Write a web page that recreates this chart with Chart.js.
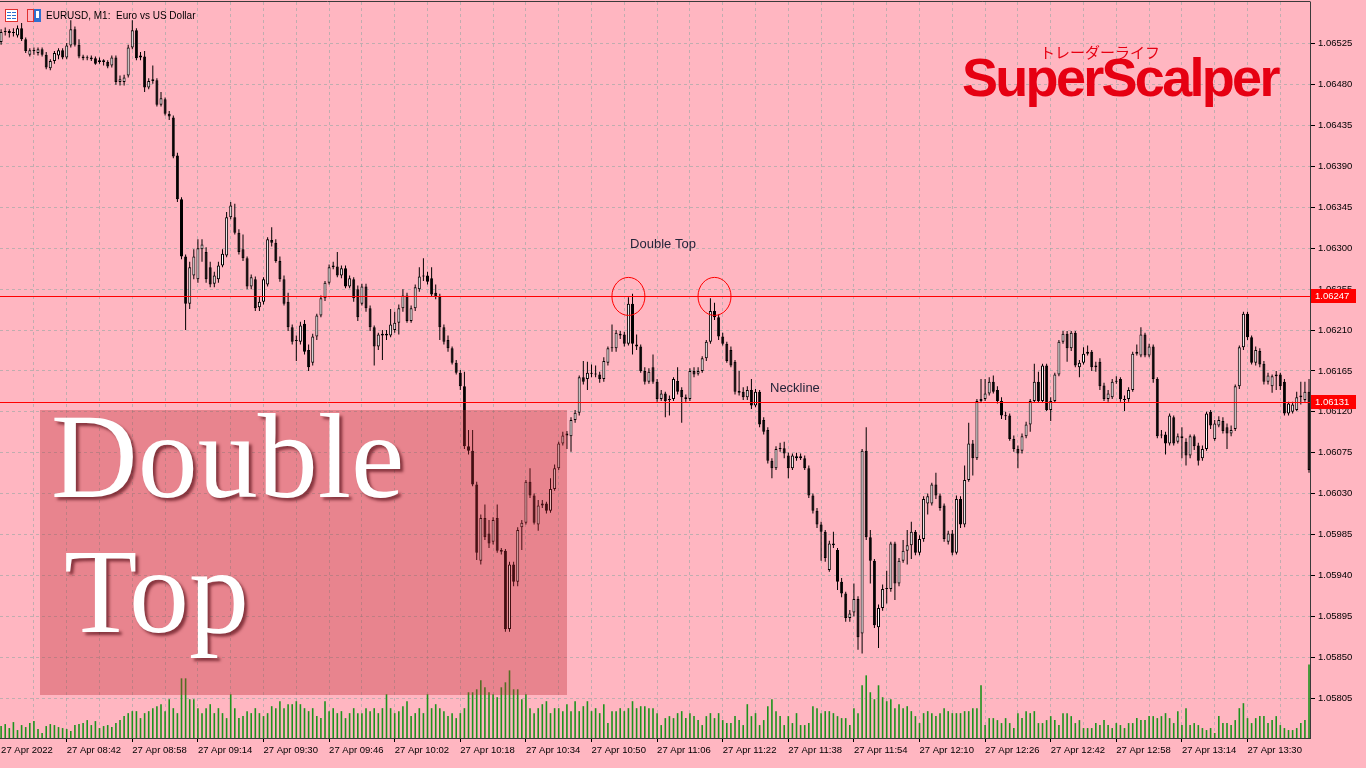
<!DOCTYPE html>
<html>
<head>
<meta charset="utf-8">
<title>EURUSD M1 - Double Top</title>
<script src="https://cdn.jsdelivr.net/npm/chart.js@4.4.1/dist/chart.umd.min.js"></script>
<style>
  html, body { margin: 0; padding: 0; background: #ffb6c1; overflow: hidden; }
  canvas { display: block; }
</style>
</head>
<body>
<canvas id="chart" width="1366" height="768"></canvas>
<script>
// EURUSD M1, 27 Apr 2022, one candle per minute from 08:26
const symbolTitle = 'EURUSD, M1:  Euro vs US Dollar';
const timeTickLabels = ['27 Apr 2022', '27 Apr 08:42', '27 Apr 08:58', '27 Apr 09:14', '27 Apr 09:30',
  '27 Apr 09:46', '27 Apr 10:02', '27 Apr 10:18', '27 Apr 10:34', '27 Apr 10:50', '27 Apr 11:06',
  '27 Apr 11:22', '27 Apr 11:38', '27 Apr 11:54', '27 Apr 12:10', '27 Apr 12:26', '27 Apr 12:42',
  '27 Apr 12:58', '27 Apr 13:14', '27 Apr 13:30'];
const priceTicks = [1.05805, 1.05850, 1.05895, 1.05940, 1.05985, 1.06030, 1.06075, 1.06120, 1.06165,
  1.06210, 1.06255, 1.06300, 1.06345, 1.06390, 1.06435, 1.06480, 1.06525];
const resistance = 1.06247;
const neckline = 1.06131;
const topCandles = [153, 174];

const openPrices = [
  1.06527,1.06538,1.06539,1.06537,1.06534,1.06542,1.06530,1.06513,1.06518,1.06515,
  1.06519,1.06513,1.06498,1.06506,1.06512,1.06518,1.06510,1.06523,1.06541,1.06524,
  1.06511,1.06509,1.06510,1.06509,1.06505,1.06507,1.06505,1.06501,1.06510,1.06483,
  1.06483,1.06490,1.06521,1.06540,1.06510,1.06511,1.06477,1.06484,1.06485,1.06458,
  1.06464,1.06448,1.06444,1.06402,1.06354,1.06291,1.06239,1.06270,1.06266,1.06299,
  1.06296,1.06279,1.06261,1.06266,1.06281,1.06292,1.06334,1.06334,1.06317,1.06299,
  1.06289,1.06258,1.06266,1.06235,1.06241,1.06260,1.06309,1.06306,1.06286,1.06266,
  1.06241,1.06213,1.06198,1.06197,1.06217,1.06188,1.06174,1.06203,1.06226,1.06245,
  1.06262,1.06279,1.06280,1.06270,1.06278,1.06258,1.06266,1.06255,1.06239,1.06258,
  1.06234,1.06213,1.06192,1.06204,1.06206,1.06204,1.06210,1.06218,1.06234,1.06248,
  1.06220,1.06234,1.06255,1.06269,1.06270,1.06267,1.06251,1.06247,1.06213,1.06199,
  1.06190,1.06174,1.06163,1.06148,1.06082,1.06077,1.06040,1.05956,1.06003,1.05986,
  1.05977,1.06003,1.05968,1.05967,1.05881,1.05952,1.05933,1.05993,1.05998,1.06043,
  1.06028,1.05996,1.06017,1.06019,1.06011,1.06035,1.06058,1.06085,1.06094,1.06093,
  1.06111,1.06119,1.06158,1.06156,1.06163,1.06162,1.06161,1.06156,1.06174,1.06190,
  1.06190,1.06204,1.06205,1.06195,1.06239,1.06194,1.06192,1.06165,1.06153,1.06169,
  1.06153,1.06134,1.06140,1.06133,1.06134,1.06154,1.06144,1.06136,1.06134,1.06165,
  1.06162,1.06165,1.06179,1.06197,1.06231,1.06224,1.06203,1.06195,1.06188,1.06175,
  1.06143,1.06142,1.06136,1.06144,1.06127,1.06142,1.06111,1.06100,1.06066,1.06058,
  1.06079,1.06080,1.06072,1.06058,1.06071,1.06069,1.06069,1.06058,1.06028,1.06011,
  1.05996,1.05988,1.05946,1.05975,1.05968,1.05933,1.05920,1.05893,1.05899,1.05914,
  1.05876,1.06077,1.05982,1.05956,1.05883,1.05904,1.05925,1.05925,1.05975,1.05931,
  1.05956,1.05967,1.05973,1.05988,1.05965,1.05980,1.06019,1.06019,1.06040,1.06028,
  1.06017,1.05977,1.05986,1.05965,1.06024,1.05996,1.06045,1.06085,1.06069,1.06132,
  1.06134,1.06140,1.06153,1.06144,1.06132,1.06116,1.06116,1.06090,1.06079,1.06077,
  1.06093,1.06106,1.06132,1.06153,1.06132,1.06171,1.06122,1.06132,1.06161,1.06197,
  1.06206,1.06190,1.06207,1.06169,1.06174,1.06184,1.06186,1.06169,1.06175,1.06149,
  1.06134,1.06136,1.06153,1.06156,1.06134,1.06134,1.06144,1.06184,1.06182,1.06205,
  1.06182,1.06192,1.06156,1.06094,1.06095,1.06085,1.06114,1.06087,1.06093,1.06087,
  1.06072,1.06093,1.06083,1.06069,1.06079,1.06120,1.06090,1.06105,1.06110,1.06103,
  1.06096,1.06101,1.06148,1.06191,1.06228,1.06202,1.06174,1.06187,1.06173,1.06153,
  1.06148,1.06159,1.06161,1.06153,1.06118,1.06120,1.06122,1.06136,1.06133,1.06142
];
const highPrices = [
  1.06541,1.06543,1.06541,1.06542,1.06545,1.06548,1.06532,1.06520,1.06521,1.06521,
  1.06521,1.06516,1.06508,1.06517,1.06520,1.06520,1.06526,1.06551,1.06544,1.06530,
  1.06513,1.06512,1.06512,1.06511,1.06510,1.06508,1.06507,1.06512,1.06512,1.06490,
  1.06491,1.06524,1.06551,1.06542,1.06516,1.06517,1.06487,1.06501,1.06487,1.06472,
  1.06466,1.06451,1.06446,1.06405,1.06356,1.06293,1.06285,1.06299,1.06310,1.06310,
  1.06301,1.06285,1.06274,1.06285,1.06299,1.06340,1.06351,1.06349,1.06321,1.06315,
  1.06291,1.06271,1.06269,1.06247,1.06268,1.06312,1.06323,1.06310,1.06291,1.06270,
  1.06251,1.06216,1.06204,1.06219,1.06221,1.06194,1.06206,1.06228,1.06248,1.06264,
  1.06282,1.06285,1.06296,1.06281,1.06281,1.06270,1.06268,1.06259,1.06261,1.06261,
  1.06237,1.06215,1.06207,1.06210,1.06210,1.06233,1.06230,1.06238,1.06255,1.06251,
  1.06237,1.06260,1.06279,1.06289,1.06274,1.06279,1.06260,1.06250,1.06216,1.06204,
  1.06192,1.06177,1.06166,1.06164,1.06100,1.06100,1.06043,1.06007,1.06018,1.06001,
  1.06004,1.06018,1.05970,1.05969,1.05955,1.05955,1.05993,1.06001,1.06045,1.06058,
  1.06030,1.06023,1.06023,1.06021,1.06047,1.06062,1.06087,1.06098,1.06099,1.06114,
  1.06122,1.06160,1.06176,1.06175,1.06172,1.06171,1.06164,1.06180,1.06192,1.06216,
  1.06210,1.06209,1.06208,1.06246,1.06250,1.06205,1.06194,1.06169,1.06168,1.06183,
  1.06156,1.06144,1.06142,1.06138,1.06158,1.06169,1.06147,1.06139,1.06168,1.06169,
  1.06169,1.06181,1.06199,1.06245,1.06240,1.06227,1.06207,1.06197,1.06192,1.06177,
  1.06165,1.06147,1.06148,1.06156,1.06145,1.06144,1.06114,1.06103,1.06069,1.06082,
  1.06086,1.06087,1.06075,1.06074,1.06075,1.06074,1.06072,1.06061,1.06030,1.06014,
  1.05999,1.05990,1.05978,1.05988,1.05970,1.05937,1.05922,1.05902,1.05931,1.05917,
  1.06079,1.06103,1.05990,1.05958,1.05908,1.05930,1.05945,1.05977,1.05977,1.05959,
  1.05979,1.05990,1.05999,1.05990,1.05984,1.06027,1.06030,1.06042,1.06053,1.06030,
  1.06019,1.05989,1.05990,1.06028,1.06027,1.06061,1.06108,1.06089,1.06134,1.06156,
  1.06156,1.06158,1.06160,1.06148,1.06136,1.06120,1.06118,1.06094,1.06083,1.06096,
  1.06109,1.06134,1.06173,1.06164,1.06173,1.06173,1.06136,1.06163,1.06199,1.06209,
  1.06209,1.06209,1.06209,1.06177,1.06191,1.06193,1.06188,1.06175,1.06179,1.06152,
  1.06144,1.06156,1.06159,1.06158,1.06138,1.06147,1.06186,1.06194,1.06213,1.06207,
  1.06195,1.06194,1.06158,1.06100,1.06098,1.06118,1.06116,1.06096,1.06103,1.06091,
  1.06095,1.06095,1.06086,1.06083,1.06120,1.06122,1.06111,1.06115,1.06114,1.06107,
  1.06105,1.06150,1.06193,1.06230,1.06230,1.06204,1.06192,1.06190,1.06176,1.06163,
  1.06161,1.06165,1.06163,1.06156,1.06131,1.06131,1.06142,1.06153,1.06153,1.06156
];
const lowPrices = [
  1.06524,1.06534,1.06532,1.06533,1.06532,1.06528,1.06515,1.06511,1.06513,1.06512,
  1.06511,1.06497,1.06496,1.06503,1.06508,1.06508,1.06508,1.06521,1.06522,1.06509,
  1.06507,1.06507,1.06506,1.06502,1.06503,1.06501,1.06498,1.06499,1.06480,1.06479,
  1.06479,1.06488,1.06519,1.06507,1.06507,1.06472,1.06475,1.06481,1.06456,1.06456,
  1.06446,1.06441,1.06399,1.06351,1.06288,1.06210,1.06233,1.06266,1.06262,1.06285,
  1.06262,1.06257,1.06257,1.06262,1.06279,1.06290,1.06332,1.06315,1.06293,1.06286,
  1.06255,1.06255,1.06231,1.06231,1.06238,1.06258,1.06302,1.06284,1.06263,1.06237,
  1.06209,1.06194,1.06176,1.06194,1.06183,1.06165,1.06171,1.06199,1.06224,1.06242,
  1.06260,1.06277,1.06268,1.06267,1.06256,1.06256,1.06241,1.06220,1.06237,1.06230,
  1.06209,1.06171,1.06188,1.06177,1.06199,1.06202,1.06207,1.06205,1.06230,1.06218,
  1.06218,1.06231,1.06252,1.06264,1.06260,1.06247,1.06244,1.06199,1.06194,1.06186,
  1.06172,1.06161,1.06144,1.06079,1.06073,1.06038,1.05957,1.05952,1.05979,1.05970,
  1.05974,1.05965,1.05963,1.05878,1.05878,1.05928,1.05928,1.05968,1.05996,1.06025,
  1.05996,1.05989,1.06014,1.06008,1.06009,1.06033,1.06056,1.06083,1.06079,1.06076,
  1.06108,1.06116,1.06150,1.06144,1.06158,1.06158,1.06152,1.06153,1.06171,1.06186,
  1.06186,1.06200,1.06192,1.06193,1.06183,1.06188,1.06163,1.06150,1.06151,1.06151,
  1.06131,1.06132,1.06114,1.06116,1.06132,1.06139,1.06108,1.06131,1.06132,1.06158,
  1.06160,1.06163,1.06176,1.06195,1.06221,1.06199,1.06193,1.06174,1.06169,1.06139,
  1.06138,1.06133,1.06133,1.06123,1.06125,1.06103,1.06095,1.06063,1.06047,1.06056,
  1.06076,1.06069,1.06047,1.06056,1.06066,1.06067,1.06056,1.06025,1.06008,1.05992,
  1.05956,1.05955,1.05944,1.05970,1.05924,1.05916,1.05889,1.05889,1.05895,1.05858,
  1.05854,1.05979,1.05931,1.05882,1.05860,1.05901,1.05909,1.05922,1.05913,1.05928,
  1.05954,1.05952,1.05958,1.05962,1.05962,1.05977,1.06007,1.06017,1.06024,1.06011,
  1.05977,1.05974,1.05962,1.05963,1.05992,1.05993,1.06043,1.06050,1.06067,1.06130,
  1.06132,1.06138,1.06140,1.06129,1.06112,1.06111,1.06088,1.06076,1.06058,1.06074,
  1.06091,1.06098,1.06130,1.06130,1.06130,1.06121,1.06110,1.06130,1.06159,1.06195,
  1.06175,1.06187,1.06169,1.06158,1.06172,1.06182,1.06165,1.06164,1.06144,1.06132,
  1.06131,1.06134,1.06151,1.06131,1.06121,1.06131,1.06142,1.06182,1.06180,1.06180,
  1.06180,1.06152,1.06091,1.06091,1.06073,1.06083,1.06083,1.06085,1.06069,1.06061,
  1.06069,1.06078,1.06061,1.06066,1.06077,1.06101,1.06088,1.06103,1.06096,1.06079,
  1.06093,1.06099,1.06145,1.06188,1.06199,1.06172,1.06171,1.06169,1.06150,1.06150,
  1.06141,1.06144,1.06144,1.06116,1.06116,1.06118,1.06121,1.06128,1.06131,1.06053
];
const closePrices = [
  1.06538,1.06539,1.06537,1.06538,1.06542,1.06530,1.06517,1.06518,1.06517,1.06519,
  1.06513,1.06499,1.06506,1.06515,1.06518,1.06510,1.06523,1.06541,1.06524,1.06511,
  1.06509,1.06510,1.06508,1.06503,1.06507,1.06505,1.06500,1.06510,1.06483,1.06486,
  1.06488,1.06521,1.06540,1.06509,1.06512,1.06477,1.06484,1.06486,1.06458,1.06465,
  1.06448,1.06445,1.06401,1.06354,1.06291,1.06239,1.06279,1.06291,1.06300,1.06304,
  1.06266,1.06260,1.06270,1.06281,1.06294,1.06334,1.06347,1.06317,1.06296,1.06289,
  1.06258,1.06268,1.06234,1.06241,1.06266,1.06310,1.06306,1.06286,1.06266,1.06239,
  1.06213,1.06197,1.06199,1.06215,1.06186,1.06169,1.06203,1.06226,1.06245,1.06262,
  1.06279,1.06281,1.06270,1.06278,1.06258,1.06267,1.06245,1.06224,1.06258,1.06234,
  1.06213,1.06192,1.06205,1.06206,1.06204,1.06216,1.06218,1.06234,1.06248,1.06220,
  1.06234,1.06257,1.06269,1.06270,1.06263,1.06249,1.06247,1.06213,1.06197,1.06190,
  1.06174,1.06163,1.06148,1.06082,1.06077,1.06040,1.05965,1.06003,1.05982,1.05975,
  1.06001,1.05967,1.05966,1.05881,1.05952,1.05933,1.05990,1.05998,1.06043,1.06028,
  1.05998,1.06017,1.06019,1.06011,1.06035,1.06058,1.06085,1.06094,1.06096,1.06111,
  1.06119,1.06158,1.06153,1.06163,1.06162,1.06161,1.06156,1.06176,1.06190,1.06191,
  1.06207,1.06206,1.06195,1.06239,1.06195,1.06192,1.06165,1.06153,1.06164,1.06153,
  1.06134,1.06140,1.06132,1.06134,1.06156,1.06142,1.06136,1.06134,1.06165,1.06161,
  1.06165,1.06179,1.06197,1.06231,1.06224,1.06203,1.06195,1.06176,1.06171,1.06142,
  1.06141,1.06136,1.06144,1.06127,1.06142,1.06106,1.06098,1.06066,1.06058,1.06079,
  1.06080,1.06074,1.06058,1.06072,1.06069,1.06071,1.06058,1.06028,1.06011,1.05996,
  1.05988,1.05959,1.05975,1.05973,1.05933,1.05920,1.05893,1.05898,1.05914,1.05872,
  1.06077,1.05982,1.05956,1.05885,1.05904,1.05925,1.05926,1.05975,1.05931,1.05956,
  1.05967,1.05973,1.05988,1.05965,1.05980,1.06024,1.06027,1.06040,1.06028,1.06014,
  1.05980,1.05986,1.05965,1.06024,1.05996,1.06045,1.06085,1.06069,1.06132,1.06134,
  1.06140,1.06153,1.06142,1.06132,1.06116,1.06115,1.06090,1.06079,1.06074,1.06093,
  1.06106,1.06132,1.06153,1.06132,1.06171,1.06122,1.06132,1.06161,1.06197,1.06206,
  1.06190,1.06207,1.06171,1.06174,1.06184,1.06186,1.06169,1.06171,1.06148,1.06134,
  1.06140,1.06153,1.06154,1.06134,1.06133,1.06144,1.06184,1.06186,1.06205,1.06182,
  1.06192,1.06156,1.06093,1.06095,1.06085,1.06116,1.06085,1.06093,1.06091,1.06072,
  1.06093,1.06082,1.06066,1.06079,1.06118,1.06105,1.06107,1.06111,1.06099,1.06096,
  1.06100,1.06148,1.06191,1.06228,1.06202,1.06174,1.06188,1.06172,1.06153,1.06160,
  1.06159,1.06161,1.06148,1.06118,1.06129,1.06128,1.06136,1.06138,1.06142,1.06056
];
const tickVolume = [
  12,14,10,16,8,13,11,15,17,9,5,12,14,13,11,10,9,7,13,14,15,18,13,17,10,12,13,11,15,18,
  22,25,27,27,20,25,27,30,32,34,27,39,30,25,60,60,39,39,30,25,30,34,25,30,25,20,44,30,20,
  22,27,25,30,25,22,25,32,30,37,30,34,34,37,34,30,27,30,22,20,37,27,30,25,27,20,25,30,25,
  25,30,27,30,25,30,44,30,25,27,32,37,22,25,30,25,44,30,34,30,27,22,25,20,25,30,46,46,49,58,
  51,46,44,41,51,56,68,49,49,39,44,30,25,30,34,37,25,30,30,27,34,27,37,27,32,37,27,30,25,
  34,15,27,27,30,27,30,37,30,32,32,30,30,25,13,20,22,20,25,27,20,25,22,18,13,22,25,20,25,
  18,15,15,22,18,13,34,22,25,13,18,32,39,27,22,13,22,15,25,13,13,15,32,30,25,27,27,25,22,
  20,20,13,30,25,53,63,46,39,53,41,37,39,30,34,30,32,27,22,15,25,27,25,22,25,30,27,25,25,25,
  27,27,30,30,53,13,20,20,18,15,20,15,10,25,20,27,25,27,15,15,18,22,18,13,25,25,22,15,18,
  10,10,10,15,13,18,13,10,15,13,10,15,15,20,18,18,22,22,20,22,25,20,15,27,13,30,13,15,13,
  10,8,10,5,22,15,15,13,18,30,35,20,15,20,22,22,15,18,22,13,10,8,8,10,15,18,74
];

const gridStep = 8;
const labelStep = 16;
const axisFont = { family: '"Liberation Sans", Arial, sans-serif', size: 9.5 };
const gridColor = 'rgba(140,165,160,0.55)';

const bodies = openPrices.map((o, i) => ({ x: i, y: [o, closePrices[i]] }));
const wicks = openPrices.map((o, i) => ({ x: i, y: [lowPrices[i], highPrices[i]] }));
const volumes = tickVolume.map((v, i) => ({ x: i, y: v }));
const isBull = i => closePrices[i] >= openPrices[i];

const gridTicks = [];
for (let i = 0; i < openPrices.length; i += gridStep) gridTicks.push(i);

const decorations = {
  id: 'decorations',
  beforeDraw(chart) {
    const c = chart.ctx;
    c.save();
    c.fillStyle = '#ffb6c1';
    c.fillRect(0, 0, chart.width, chart.height);
    c.restore();
  },
  afterDatasetsDraw(chart) {
    const c = chart.ctx;
    const a = chart.chartArea;
    const xs = chart.scales.x, ys = chart.scales.y;
    c.save();
    c.strokeStyle = '#ff0000';
    c.lineWidth = 1;
    [resistance, neckline].forEach(v => {
      const y = Math.round(ys.getPixelForValue(v)) + 0.5;
      c.beginPath();
      c.moveTo(a.left, y);
      c.lineTo(a.right, y);
      c.stroke();
    });
    topCandles.forEach(i => {
      c.beginPath();
      c.ellipse(xs.getPixelForValue(i), ys.getPixelForValue(resistance), 16.5, 19, 0, 0, Math.PI * 2);
      c.stroke();
    });

    c.fillStyle = '#25253a';
    c.font = '13px "Liberation Sans", Arial, sans-serif';
    c.textBaseline = 'middle';
    c.textAlign = 'center';
    c.fillText('Double Top', 663, 244);
    c.textAlign = 'left';
    c.fillText('Neckline', 770, 388);

    // pattern caption box
    c.fillStyle = 'rgba(190,40,50,0.35)';
    c.fillRect(40, 410, 527, 285);
    c.font = '120px "Liberation Serif", "Times New Roman", serif';
    c.fillStyle = '#ffffff';
    c.textBaseline = 'alphabetic';
    c.shadowColor = 'rgba(70,0,10,0.6)';
    c.shadowOffsetX = 3;
    c.shadowOffsetY = 3;
    c.shadowBlur = 3;
    c.fillText('Double', 51, 497);
    c.fillText('Top', 64, 632);
    c.restore();
  },
  afterDraw(chart) {
    const c = chart.ctx;
    const a = chart.chartArea;
    const ys = chart.scales.y;
    c.save();
    // frame
    c.strokeStyle = '#3a3a3a';
    c.lineWidth = 1;
    c.beginPath();
    c.moveTo(0, 1.5);
    c.lineTo(a.right + 0.5, 1.5);
    c.stroke();

    // level prices on the axis
    c.font = '9.5px "Liberation Sans", Arial, sans-serif';
    c.textBaseline = 'middle';
    c.textAlign = 'left';
    [resistance, neckline].forEach(v => {
      const y = Math.round(ys.getPixelForValue(v));
      c.fillStyle = '#ff0000';
      c.fillRect(a.right + 1, y - 7, 45, 14);
      c.fillStyle = '#ffffff';
      c.fillText(v.toFixed(5), a.right + 5, y + 0.5);
    });

    // header icons and symbol
    c.fillStyle = '#ffffff';
    c.fillRect(5, 9, 13, 13);
    c.strokeStyle = '#e03030';
    c.strokeRect(5.5, 9.5, 12, 12);
    c.fillStyle = '#2f6fd0';
    c.fillRect(7, 12, 4, 1); c.fillRect(12, 12, 4, 1);
    c.fillRect(7, 15, 4, 1); c.fillRect(12, 15, 4, 1);
    c.fillRect(7, 18, 4, 1); c.fillRect(12, 18, 4, 1);
    c.strokeStyle = '#e03030';
    c.strokeRect(27.5, 9.5, 6, 12);
    c.fillStyle = '#2f6fd0';
    c.fillRect(34, 9, 7, 13);
    c.fillStyle = '#ffffff';
    c.fillRect(36, 11, 3, 7);

    c.fillStyle = '#000000';
    c.font = '10px "Liberation Sans", Arial, sans-serif';
    c.fillText(symbolTitle, 46, 16);

    // logo
    c.fillStyle = '#e60012';
    c.font = 'bold 54px "Liberation Sans", Arial, sans-serif';
    c.textBaseline = 'alphabetic';
    c.letterSpacing = '-2.7px';
    c.fillText('SuperScalper', 962, 96);
    c.letterSpacing = '0px';
    c.font = '15px "Noto Sans CJK JP", sans-serif';
    c.fillText('トレーダーライフ', 1040, 58);
    c.restore();
  }
};

const ctx = document.getElementById('chart').getContext('2d');
new Chart(ctx, {
  type: 'bar',
  data: {
    datasets: [
      {
        label: 'Body',
        data: bodies,
        yAxisID: 'y',
        grouped: false,
        barThickness: 3,
        borderWidth: 1,
        borderSkipped: false,
        inflateAmount: 0,
        minBarLength: 1,
        borderColor: '#000000',
        backgroundColor: c => isBull(c.dataIndex) ? '#ffffff' : '#000000',
        order: 0
      },
      {
        label: 'Wick',
        data: wicks,
        yAxisID: 'y',
        grouped: false,
        barThickness: 1,
        borderWidth: 0,
        inflateAmount: 0,
        backgroundColor: '#000000',
        order: 1
      },
      {
        label: 'Volume',
        data: volumes,
        yAxisID: 'yv',
        grouped: false,
        barThickness: 1.6,
        borderWidth: 0,
        inflateAmount: 0,
        backgroundColor: '#1d931d',
        order: 2
      }
    ]
  },
  options: {
    responsive: false,
    animation: false,
    devicePixelRatio: 1,
    layout: { padding: { top: 2, left: 0, right: 0, bottom: 0 } },
    plugins: {
      legend: { display: false },
      tooltip: { enabled: false },
      title: { display: false }
    },
    scales: {
      x: {
        type: 'linear',
        min: -0.27,
        max: 319.24,
        offset: false,
        bounds: 'data',
        grid: {
          offset: false,
          color: c => c.tick && c.tick.value > 0 ? gridColor : 'rgba(0,0,0,0)',
          tickColor: c => c.tick && c.tick.value > 0 && c.tick.value % labelStep === 0 ? '#000000' : 'rgba(0,0,0,0)',
          tickLength: 4
        },
        border: { color: '#3a3a3a', dash: [3, 3] },
        ticks: {
          autoSkip: false,
          maxRotation: 0,
          align: 'start',
          padding: 3,
          color: '#000000',
          font: axisFont,
          callback: v => v % labelStep === 0 ? timeTickLabels[v / labelStep] : ''
        },
        afterBuildTicks: s => { s.ticks = gridTicks.map(v => ({ value: v })); },
        afterFit: s => { s.height = 30; s.paddingLeft = 0; s.paddingRight = 0; }
      },
      y: {
        position: 'right',
        min: 1.05761,
        max: 1.06571,
        bounds: 'data',
        grid: { color: gridColor, tickColor: '#000000', tickLength: 5 },
        border: { color: '#3a3a3a', dash: [3, 3] },
        ticks: {
          padding: 3,
          color: '#000000',
          font: axisFont,
          callback: v => v.toFixed(5)
        },
        afterBuildTicks: s => { s.ticks = priceTicks.map(v => ({ value: v })); },
        afterFit: s => { s.width = 56; s.paddingTop = 0; s.paddingBottom = 0; }
      },
      yv: { display: false, min: 0, max: 740 }
    }
  },
  plugins: [decorations]
});
</script>
</body>
</html>
